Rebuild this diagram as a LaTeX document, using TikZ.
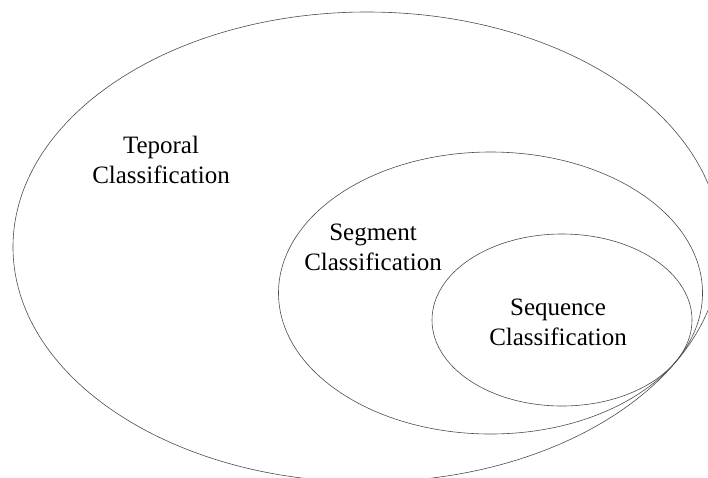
\documentclass[tikz,border=0pt]{standalone}
\usepackage{fontspec}
\setmainfont{Liberation Serif}
\usepackage{tikz}

\begin{document}
\begin{tikzpicture}[x=1pt,y=-1pt,
    set/.style={draw=black!70, line width=0.6pt},
    lbl/.style={align=center, font=\fontsize{25}{30}\selectfont}]
            \useasboundingbox (0,0) rectangle (708,477);

            \draw[set] (367,247) ellipse [x radius=354, y radius=235];
            \draw[set] (490.5,293) ellipse [x radius=212, y radius=141];
            \draw[set] (562,320) ellipse [x radius=130, y radius=86];

            \node[lbl] (Temporal) at (161,160) {Teporal\\Classification};
            \node[lbl] (Segment) at (373,247) {Segment\\Classification};
            \node[lbl] (Sequence) at (558,322) {Sequence\\Classification};
        \end{tikzpicture}
\end{document}
